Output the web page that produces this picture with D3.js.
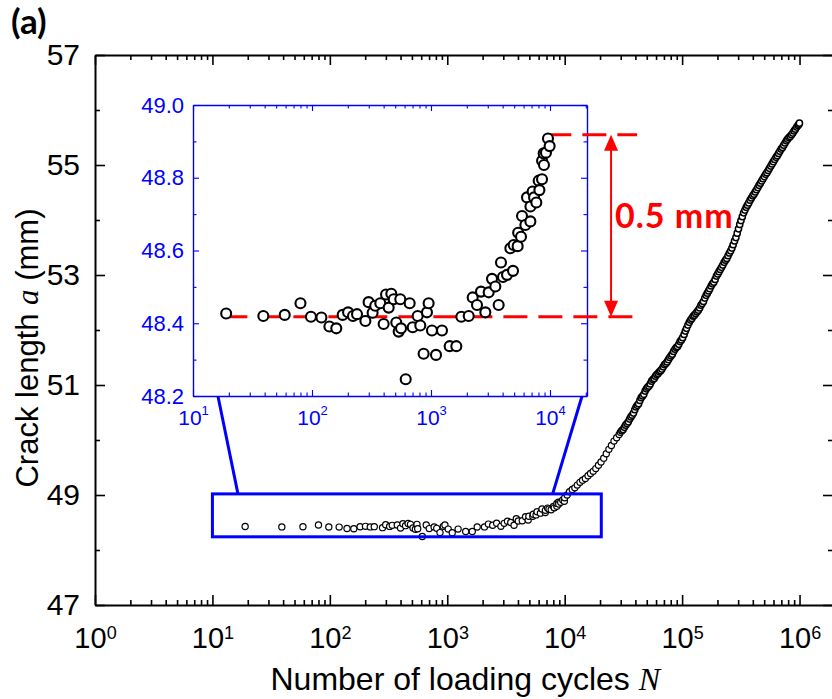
<!DOCTYPE html>
<html>
<head>
<meta charset="utf-8">
<script src="https://cdn.jsdelivr.net/npm/d3@7"></script>
<style>
  body { margin: 0; background: #fff; }
  svg { display: block; }
</style>
</head>
<body>
<svg id="chart" width="832" height="699"></svg>
<script>
// Early growth (N <= 1e4): shown in the inset and in the main plot
const earlyCycles = [19, 39, 59, 80, 98, 120, 140, 160, 181, 201, 221, 239, 281, 299, 323, 340, 375, 400, 419, 441,
  464, 486, 511, 535, 552, 560, 613, 662, 702, 773, 813, 867, 925, 955, 1019, 1102, 1237, 1435, 1633, 1799,
  2075, 2240, 2436, 2632, 2862, 3053, 3256, 3473, 3704, 3874, 4028, 4353, 4643, 4888, 4953, 5348, 5400, 5707,
  5820, 6210, 6412, 6841, 6850, 7149, 7350, 7674, 8034, 8150, 8572, 8580, 8850, 8900, 9250, 9616, 9932];
const earlyLength = [48.427, 48.420, 48.423, 48.455, 48.418, 48.416, 48.391, 48.386, 48.423, 48.430, 48.420, 48.425,
  48.406, 48.458, 48.429, 48.448, 48.455, 48.398, 48.479, 48.443, 48.481, 48.466, 48.402, 48.377, 48.466, 48.386,
  48.246, 48.455, 48.389, 48.420, 48.394, 48.316, 48.430, 48.455, 48.380, 48.313, 48.380, 48.337, 48.337, 48.418,
  48.420, 48.471, 48.450, 48.487, 48.430, 48.485, 48.522, 48.501, 48.450, 48.567, 48.527, 48.533, 48.606, 48.544,
  48.615, 48.612, 48.649, 48.638, 48.695, 48.670, 48.746, 48.680, 48.721, 48.762, 48.746, 48.732, 48.792, 48.766,
  48.796, 48.847, 48.867, 48.835, 48.869, 48.908, 48.887];

// Later growth (N > 1e4): main plot only
const lateCycles = [10000, 10500, 11000, 11600, 12200, 12800, 13500, 14200, 15000, 15800, 16600, 17500, 18400, 19400,
  20400, 21500, 22600, 23800, 25000, 26300, 27700, 29100, 30600, 32200, 33900, 35700, 37500, 39500, 41500, 43700, 46000,
  48400, 50900, 53500, 56300, 59300, 62400, 65600, 69000, 72600, 76400, 80400, 84600, 89000, 93600, 98500,
  104000, 109000, 115000, 121000, 127000, 134000, 141000, 148000, 156000, 164000, 172000, 181000, 191000,
  201000, 211000, 222000, 234000, 246000, 259000, 272000, 287000, 302000, 317000, 334000, 351000, 369000, 389000,
  409000, 430000, 452000, 476000,
  501000, 527000, 554000, 583000, 614000, 646000, 679000, 715000, 752000, 791000, 832000, 876000, 921000, 969000,
  985000, 998000];
const lateLength = [48.95, 49.00, 49.06, 49.10, 49.13, 49.18, 49.23, 49.27, 49.30, 49.35, 49.39, 49.43, 49.48, 49.54,
  49.60, 49.67, 49.75, 49.83, 49.90, 49.98, 50.04, 50.10, 50.17, 50.23, 50.30, 50.38, 50.45, 50.55, 50.63, 50.72, 50.80,
  50.89, 50.96, 51.02, 51.10, 51.16, 51.21, 51.26, 51.33, 51.39, 51.46, 51.53, 51.61, 51.68, 51.74, 51.82,
  51.92, 52.03, 52.14, 52.21, 52.27, 52.33, 52.40, 52.48, 52.58, 52.67, 52.75, 52.84, 52.92,
  53.02, 53.10, 53.18, 53.27, 53.35, 53.44, 53.55, 53.68, 53.84, 53.99, 54.13, 54.23, 54.31, 54.40, 54.47, 54.55,
  54.63, 54.71,
  54.79, 54.86, 54.94, 55.02, 55.10, 55.17, 55.25, 55.32, 55.40, 55.47, 55.52, 55.58, 55.65, 55.72, 55.74, 55.76];

// Later growth, intermediate readings (N > 2.9e4)
const lateCyclesB = [29800, 31400, 33000, 34800, 36600, 38500, 40500, 42600, 44800, 47200, 49600, 52200, 54900,
  57800, 60800, 64000, 67300, 70800, 74500, 78400, 82500, 86800, 91300, 96000, 101000, 106500, 112000, 118000,
  124000, 130500, 137500, 144500, 152000, 160000, 168000, 176500, 186000, 196000, 206000, 216500, 228000, 240000,
  252500, 265500, 279500, 294500, 309500, 325500, 342500, 360000, 379000, 399000, 419500, 441000, 464000, 488000,
  514000, 540500, 568500, 598500, 630000, 662500, 697000, 733500, 771500, 811500, 854000, 898500, 945000];
const lateLengthB = [50.14, 50.19, 50.27, 50.33, 50.42, 50.49, 50.60, 50.66, 50.77, 50.83, 50.93, 50.98, 51.07,
  51.12, 51.19, 51.24, 51.29, 51.37, 51.42, 51.50, 51.56, 51.65, 51.70, 51.79, 51.86, 51.98, 52.09, 52.18,
  52.25, 52.30, 52.36, 52.45, 52.52, 52.63, 52.71, 52.80, 52.87, 52.98, 53.06, 53.14, 53.23, 53.30,
  53.40, 53.49, 53.62, 53.76, 53.92, 54.06, 54.18, 54.27, 54.36, 54.44, 54.51, 54.59, 54.67, 54.75,
  54.83, 54.90, 54.98, 55.06, 55.14, 55.21, 55.29, 55.36, 55.44, 55.50, 55.55, 55.62, 55.69];

// Axis ticks
const mainYMajor = [47, 49, 51, 53, 55, 57];
const mainYMinor = [48, 50, 52, 54, 56];
const mainXDecades = [0, 1, 2, 3, 4, 5, 6];
const insetYMajor = [48.2, 48.4, 48.6, 48.8, 49.0];
const insetYMinor = [48.3, 48.5, 48.7, 48.9];
const insetXDecades = [1, 2, 3, 4];

// Annotation: threshold crack length and 0.5 mm growth
const baseLength = 48.418;
const growthLabel = 0.5;
const zoomBox = { n0: 10, n1: 20500, a0: 48.24, a1: 49.02 };

const svg = d3.select("#chart");
const SANS = "'Liberation Sans', Arial, sans-serif";
const SERIF = "'Liberation Serif', 'Times New Roman', serif";
const BOLD = "Lato, 'Open Sans', sans-serif";
const BLUE = "#0000ff";
const RED = "#ff0000";

// ---------- main plot ----------
const x = d3.scaleLog().domain([1, Math.pow(10, 6.285)]).range([95, 833]);
const y = d3.scaleLinear().domain([47, 57]).range([605, 55]);

function minorLog(scale, decades) {
  const out = [];
  const [lo, hi] = scale.domain();
  decades.forEach(d => { for (let m = 2; m <= 9; m++) { const v = m * Math.pow(10, d); if (v > lo && v < hi) out.push(v); } });
  return out;
}
const majorX = mainXDecades.map(d => Math.pow(10, d));
const minorX = minorLog(x, mainXDecades);

function styleAxis(g, color, width) {
  g.attr("font-family", SANS);
  g.selectAll("path.domain").attr("stroke", color).attr("stroke-width", width);
  g.selectAll(".tick line").attr("stroke", color).attr("stroke-width", width * 0.8);
  return g;
}
function supLabels(g, baseY, fs, supFs, supDy, color) {
  g.selectAll(".tick text").each(function (d) {
    const t = d3.select(this);
    t.text(null).attr("y", baseY).attr("dy", null).attr("fill", color)
      .attr("font-size", fs).attr("text-anchor", "middle");
    t.append("tspan").text("10");
    t.append("tspan").attr("dy", supDy).attr("font-size", supFs).text(Math.round(Math.log10(d)));
  });
}

// bottom
const gxb = svg.append("g").attr("transform", `translate(0,${y(47)})`)
  .call(d3.axisBottom(x).tickValues(majorX).tickSize(-10).tickSizeOuter(0).tickFormat(() => ""));
styleAxis(gxb, "#000", 2);
supLabels(gxb, 43, 29, 18, -9, "#000");
svg.append("g").attr("transform", `translate(0,${y(47)})`)
  .call(d3.axisBottom(x).tickValues(minorX).tickSize(-5).tickFormat(() => ""))
  .call(g => g.select(".domain").remove()).call(g => styleAxis(g, "#000", 2));
// top
svg.append("g").attr("transform", `translate(0,${y(57)})`)
  .call(d3.axisTop(x).tickValues(majorX).tickSize(-10).tickSizeOuter(0).tickFormat(() => ""))
  .call(g => styleAxis(g, "#000", 2));
svg.append("g").attr("transform", `translate(0,${y(57)})`)
  .call(d3.axisTop(x).tickValues(minorX).tickSize(-5).tickFormat(() => ""))
  .call(g => g.select(".domain").remove()).call(g => styleAxis(g, "#000", 2));
// left
const gyl = svg.append("g").attr("transform", `translate(${x(1)},0)`)
  .call(d3.axisLeft(y).tickValues(mainYMajor).tickSize(-10).tickSizeOuter(0).tickPadding(15).tickFormat(d3.format("d")));
styleAxis(gyl, "#000", 2);
gyl.selectAll(".tick text").attr("font-size", 30).attr("fill", "#000");
svg.append("g").attr("transform", `translate(${x(1)},0)`)
  .call(d3.axisLeft(y).tickValues(mainYMinor).tickSize(-5).tickFormat(() => ""))
  .call(g => g.select(".domain").remove()).call(g => styleAxis(g, "#000", 2));
// right
const xr = x.range()[1];
svg.append("g").attr("transform", `translate(${xr},0)`)
  .call(d3.axisRight(y).tickValues(mainYMajor).tickSize(-10).tickSizeOuter(0).tickFormat(() => ""))
  .call(g => styleAxis(g, "#000", 2));
svg.append("g").attr("transform", `translate(${xr},0)`)
  .call(d3.axisRight(y).tickValues(mainYMinor).tickSize(-5).tickFormat(() => ""))
  .call(g => g.select(".domain").remove()).call(g => styleAxis(g, "#000", 2));

// axis titles
const xt = svg.append("text").attr("x", (x(1) + x(1e6)) / 2 + 18).attr("y", 690)
  .attr("text-anchor", "middle").attr("font-family", SANS).attr("font-size", 32).attr("fill", "#000");
xt.append("tspan").text("Number of loading cycles ");
xt.append("tspan").attr("font-family", SERIF).attr("font-style", "italic").text("N");

const yt = svg.append("text").attr("transform", `translate(38,${y(52) + 18}) rotate(-90)`)
  .attr("text-anchor", "middle").attr("font-family", SANS).attr("font-size", 31).attr("fill", "#000");
yt.append("tspan").text("Crack length ");
yt.append("tspan").attr("font-family", SERIF).attr("font-style", "italic").text("a");
yt.append("tspan").text(" (mm)");

// panel tag
svg.append("text").attr("x", 11).attr("y", 34).attr("font-family", BOLD)
  .attr("font-weight", "bold").attr("font-size", 35).attr("fill", "#000").text("(a)");

// main data
const mainPts = earlyCycles.map((n, i) => [n, earlyLength[i]])
  .concat(lateCycles.map((n, i) => [n, lateLength[i]]))
  .concat(lateCyclesB.map((n, i) => [n, lateLengthB[i]]))
  .sort((a, b) => a[0] - b[0]);
svg.append("g").selectAll("circle").data(mainPts).join("circle")
  .attr("cx", d => x(d[0])).attr("cy", d => y(d[1])).attr("r", 3.1)
  .attr("fill", "#fff").attr("stroke", "#000").attr("stroke-width", d => d[0] > 30000 ? 1.5 : 1.2);

// ---------- zoom box and connectors ----------
svg.append("rect")
  .attr("x", x(zoomBox.n0)).attr("y", y(zoomBox.a1))
  .attr("width", x(zoomBox.n1) - x(zoomBox.n0)).attr("height", y(zoomBox.a0) - y(zoomBox.a1))
  .attr("fill", "none").attr("stroke", BLUE).attr("stroke-width", 3);

// ---------- inset ----------
const ix = d3.scaleLog().domain([10, Math.pow(10, 4.311)]).range([193, 587]);
const iy = d3.scaleLinear().domain([48.2, 49.0]).range([396, 105]);

const connectors = [
  { main: 16.5, inset: 16.2 },
  { main: 7900, inset: 18600 }
];
svg.append("g").selectAll("line").data(connectors).join("line")
  .attr("x1", d => x(d.main)).attr("y1", y(zoomBox.a1))
  .attr("x2", d => ix(d.inset)).attr("y2", iy(48.2))
  .attr("stroke", BLUE).attr("stroke-width", 3);

svg.append("rect").attr("x", 193).attr("y", 105).attr("width", 394).attr("height", 291)
  .attr("fill", "#fff").attr("stroke", "none");

const iMajorX = insetXDecades.map(d => Math.pow(10, d));
const iMinorX = minorLog(ix, insetXDecades);
const ib = iy.range()[0], itop = iy.range()[1], il = ix.range()[0], ir = ix.range()[1];

const gib = svg.append("g").attr("transform", `translate(0,${ib})`)
  .call(d3.axisBottom(ix).tickValues(iMajorX).tickSize(-6).tickSizeOuter(0).tickFormat(() => ""));
styleAxis(gib, BLUE, 1.4);
supLabels(gib, 29, 21, 13, -10, BLUE);
svg.append("g").attr("transform", `translate(0,${ib})`)
  .call(d3.axisBottom(ix).tickValues(iMinorX).tickSize(-3.5).tickFormat(() => ""))
  .call(g => g.select(".domain").remove()).call(g => styleAxis(g, BLUE, 1.4));
svg.append("g").attr("transform", `translate(0,${itop})`)
  .call(d3.axisTop(ix).tickValues(iMajorX).tickSize(-6).tickSizeOuter(0).tickFormat(() => ""))
  .call(g => styleAxis(g, BLUE, 1.4));
svg.append("g").attr("transform", `translate(0,${itop})`)
  .call(d3.axisTop(ix).tickValues(iMinorX).tickSize(-3.5).tickFormat(() => ""))
  .call(g => g.select(".domain").remove()).call(g => styleAxis(g, BLUE, 1.4));
const gil = svg.append("g").attr("transform", `translate(${il},0)`)
  .call(d3.axisLeft(iy).tickValues(insetYMajor).tickSize(-6).tickSizeOuter(0).tickPadding(9).tickFormat(d3.format(".1f")));
styleAxis(gil, BLUE, 1.4);
gil.selectAll(".tick text").attr("font-size", 22).attr("fill", BLUE);
svg.append("g").attr("transform", `translate(${il},0)`)
  .call(d3.axisLeft(iy).tickValues(insetYMinor).tickSize(-3.5).tickFormat(() => ""))
  .call(g => g.select(".domain").remove()).call(g => styleAxis(g, BLUE, 1.4));
svg.append("g").attr("transform", `translate(${ir},0)`)
  .call(d3.axisRight(iy).tickValues(insetYMajor).tickSize(-6).tickSizeOuter(0).tickFormat(() => ""))
  .call(g => styleAxis(g, BLUE, 1.4));
svg.append("g").attr("transform", `translate(${ir},0)`)
  .call(d3.axisRight(iy).tickValues(insetYMinor).tickSize(-3.5).tickFormat(() => ""))
  .call(g => g.select(".domain").remove()).call(g => styleAxis(g, BLUE, 1.4));

// dashed reference levels (drawn beneath the inset markers)
const topLength = baseLength + growthLabel;
const levels = [
  { a: baseLength, n0: 18, n1: 56000 },
  { a: topLength, n0: 9500, n1: 54000 }
];
svg.append("g").selectAll("line").data(levels).join("line")
  .attr("x1", d => ix(d.n0)).attr("x2", d => ix(d.n1))
  .attr("y1", d => iy(d.a)).attr("y2", d => iy(d.a))
  .attr("stroke", RED).attr("stroke-width", 3).attr("stroke-dasharray", "24,11");

// inset data
svg.append("g").selectAll("circle").data(earlyCycles.map((n, i) => [n, earlyLength[i]])).join("circle")
  .attr("cx", d => ix(d[0])).attr("cy", d => iy(d[1])).attr("r", 5)
  .attr("fill", "#fff").attr("stroke", "#000").attr("stroke-width", 2.1);

// double-headed arrow for the growth
const arrowN = 32600;
const ax = ix(arrowN), ay0 = iy(topLength), ay1 = iy(baseLength);
const head = 16, hw = 7;
svg.append("line").attr("x1", ax).attr("x2", ax).attr("y1", ay0 + head - 2).attr("y2", ay1 - head + 2)
  .attr("stroke", RED).attr("stroke-width", 2);
svg.append("path").attr("d", `M${ax},${ay0} L${ax - hw},${ay0 + head} L${ax + hw},${ay0 + head} Z`).attr("fill", RED);
svg.append("path").attr("d", `M${ax},${ay1} L${ax - hw},${ay1 - head} L${ax + hw},${ay1 - head} Z`).attr("fill", RED);
svg.append("text").attr("x", ax + 4).attr("y", (ay0 + ay1) / 2 + 2)
  .attr("font-family", BOLD).attr("font-weight", "bold").attr("font-size", 34).attr("letter-spacing", 1)
  .attr("fill", RED).text(growthLabel + " mm");
</script>
</body>
</html>
